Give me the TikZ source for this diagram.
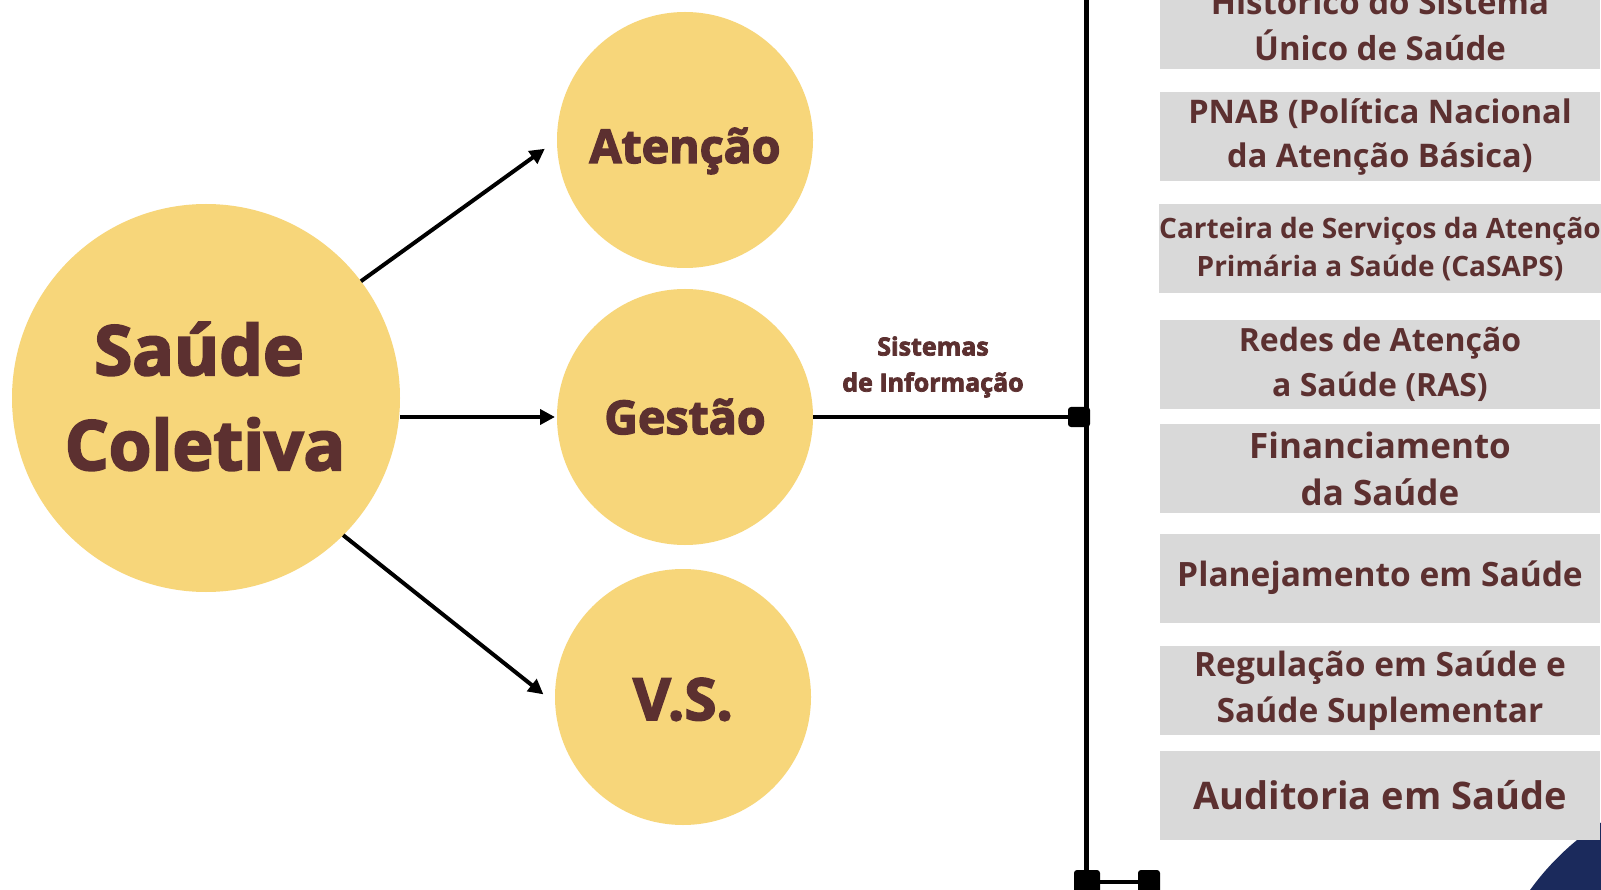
\documentclass[tikz,border=0pt]{standalone}
\usepackage{fontspec}
\setmainfont{Open Sans}
\newfontfamily\heavy{Open Sans}[BoldFeatures={FakeBold=3}]
\usetikzlibrary{arrows.meta,calc}
\definecolor{circ}{RGB}{247,214,122}
\definecolor{txt}{RGB}{92,48,48}
\definecolor{boxg}{RGB}{217,217,217}
\definecolor{navy}{RGB}{27,42,92}
\newcommand\myfs[2]{\fontsize{#1}{#2}\selectfont}
\begin{document}
\begin{tikzpicture}[x=1pt,y=-1pt,
  ball/.style={circle, fill=circ, draw=none, inner sep=0pt, outer sep=0pt},
  ctext/.style={text=txt, inner sep=0pt, anchor=base},
  arr/.style={line width=4pt, -{Triangle[length=15pt,width=15pt]}, black},
  item/.style={fill=boxg, minimum width=440pt, minimum height=89pt, inner sep=0pt, outer sep=0pt, text=txt, align=center},
  sq/.style={fill=black, rounded corners=3pt, inner sep=0pt, outer sep=0pt, minimum width=22pt, minimum height=20pt},
  link/.style={line width=4pt, black}
  ]
\clip (0,0) rectangle (1601,890);
\fill[white] (0,0) rectangle (1601,890);
\fill[navy] (1745,1045) circle[radius=265pt];

% circles
\node[ball, minimum size=388pt] (sc) at (206,398) {};
\node[ball, minimum size=256pt] (at) at (685,140) {};
\node[ball, minimum size=256pt] (gs) at (685,417) {};
\node[ball, minimum size=256pt] (vs) at (683,697) {};

\node[ctext, font=\heavy\bfseries\myfs{69}{69}] (scA) at (199,375) {Saúde};
\node[ctext, font=\heavy\bfseries\myfs{69}{69}] (scB) at (205,470) {Coletiva};
\node[ctext, font=\heavy\bfseries\myfs{46.5}{47}] (atT) at (685,163) {Atenção};
\node[ctext, font=\heavy\bfseries\myfs{46.5}{47}] (gsT) at (685,434) {Gestão};
\node[ctext, font=\heavy\bfseries\myfs{58}{59}] (vsT) at (683,720) {V.S.};

% arrows
\draw[arr, shorten >=15pt] (sc.37) -- (at.180);
\draw[arr, shorten >=2pt] (sc.east |- gs.west) -- (gs.west);
\draw[arr, shorten >=15pt] (sc.-45.6) -- (vs.183);

% trunk
\coordinate (top) at (1086,-10);
\node[sq] (jn) at (1079,417) {};
\node[sq, minimum width=26pt, minimum height=24pt] (bl) at (1087,882) {};
\node[sq, minimum width=22pt, minimum height=24pt] (br) at (1149,882) {};
\draw[line width=5pt] (top) -- (top |- bl.center);
\draw[link] (gs.east) -- (jn);
\draw[link] (bl) -- (br);
\node[text=txt, font=\heavy\bfseries\myfs{25}{36}, align=center, inner sep=0pt] (si) at (933,367) {Sistemas\\de Informação};

% boxes
\node[item, font=\bfseries\myfs{33}{46}] (b1) at (1380,25) {Histórico do Sistema\\Único de Saúde};
\node[item, font=\bfseries\myfs{32.5}{44}] (b2) at (1380,136.5) {PNAB (Política Nacional\\da Atenção Básica)};
\node[item, font=\bfseries\myfs{28}{38}] (b3) at (1380,249) {Carteira de Serviços da Atenção\\Primária a Saúde (CaSAPS)};
\node[item, font=\bfseries\myfs{32}{45}] (b4) at (1380,364.5) {Redes de Atenção\\a Saúde (RAS)};
\node[item, font=\bfseries\myfs{35}{47}] (b5) at (1380,468.5) {Financiamento\\da Saúde};
\node[item, font=\bfseries\myfs{33.5}{46}] (b6) at (1380,578) {Planejamento em Saúde};
\node[item, font=\bfseries\myfs{33.5}{46}] (b7) at (1380,690.5) {Regulação em Saúde e\\Saúde Suplementar};
\node[item, font=\bfseries\myfs{38}{46}] (b8) at (1380,795.5) {Auditoria em Saúde};
\end{tikzpicture}
\end{document}
